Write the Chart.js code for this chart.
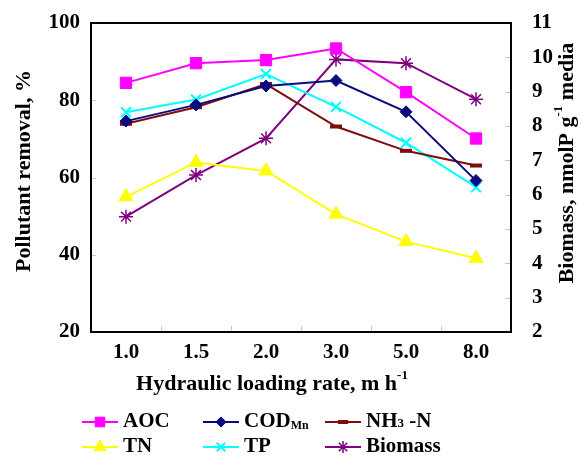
<!DOCTYPE html>
<html>
<head>
<meta charset="utf-8">
<script src="https://cdn.jsdelivr.net/npm/chart.js@4/dist/chart.umd.min.js"></script>
<style>
  html, body { margin: 0; padding: 0; background: #fff; }
  #wrap { width: 581px; height: 461px; }
</style>
</head>
<body>
<div id="wrap"><canvas id="myChart" width="581" height="461"></canvas></div>
<script>
// chart values
const categories = ['1.0', '1.5', '2.0', '3.0', '5.0', '8.0'];
const aoc = [84.5, 89.6, 90.4, 93.4, 82.1, 70.1];
const codMn = [74.6, 78.8, 83.7, 85.1, 77.0, 59.2];
const nh3n = [73.9, 78.2, 84.2, 73.2, 66.9, 63.1];
const tn = [55.0, 63.9, 61.7, 50.5, 43.4, 39.1];
const tp = [76.9, 80.2, 86.8, 78.3, 69.0, 57.5];
const biomass = [5.36, 6.57, 7.64, 9.94, 9.83, 8.78];
const leftTicks = [20, 40, 60, 80, 100];
const rightTicks = [2, 3, 4, 5, 6, 7, 8, 9, 10, 11];

const FONT = "'Liberation Serif', 'Times New Roman', serif";

// draw a run of text pieces (for sub / superscripts)
function drawRuns(ctx, runs, x, y, align) {
  let total = 0;
  runs.forEach(r => {
    ctx.font = 'bold ' + r.size + 'px ' + FONT;
    r.w = ctx.measureText(r.t).width;
    total += r.w;
  });
  let cx = align === 'center' ? x - total / 2 : x;
  ctx.textAlign = 'left';
  ctx.textBaseline = 'middle';
  runs.forEach(r => {
    ctx.font = 'bold ' + r.size + 'px ' + FONT;
    ctx.fillText(r.t, cx, y + (r.dy || 0));
    cx += r.w;
  });
}

const extras = {
  id: 'extras',
  afterDraw(chart) {
    const ctx = chart.ctx;
    const a = chart.chartArea;
    const x = chart.scales.x, y = chart.scales.y, y1 = chart.scales.y1;
    ctx.save();
    // small inner tick marks
    ctx.strokeStyle = '#c8c8c8';
    ctx.lineWidth = 1;
    ctx.beginPath();
    [40, 60, 80].forEach(v => {
      const py = Math.round(y.getPixelForValue(v)) + 0.5;
      ctx.moveTo(a.left, py); ctx.lineTo(a.left + 5, py);
    });
    rightTicks.slice(1, -1).forEach(v => {
      const py = Math.round(y1.getPixelForValue(v)) + 0.5;
      ctx.moveTo(a.right - 6, py); ctx.lineTo(a.right, py);
    });
    for (let i = 0; i < categories.length - 1; i++) {
      const px = Math.round((x.getPixelForValue(i) + x.getPixelForValue(i + 1)) / 2) + 0.5;
      ctx.moveTo(px, a.bottom); ctx.lineTo(px, a.bottom - 6);
    }
    ctx.stroke();

    // frame
    ctx.strokeStyle = '#000';
    ctx.lineWidth = 2;
    ctx.strokeRect(a.left, a.top, a.right - a.left, a.bottom - a.top);

    ctx.fillStyle = '#000';
    // left title
    ctx.save();
    ctx.translate(24, 171);
    ctx.rotate(-Math.PI / 2);
    drawRuns(ctx, [{ t: 'Pollutant removal, %', size: 22 }], 0, 0, 'center');
    ctx.restore();
    // right title
    ctx.save();
    ctx.translate(567, 163);
    ctx.rotate(-Math.PI / 2);
    drawRuns(ctx, [
      { t: 'Biomass, nmolP g', size: 22 },
      { t: '-1', size: 13, dy: -8 },
      { t: ' media', size: 22 }
    ], 0, 0, 'center');
    ctx.restore();
    // x title
    drawRuns(ctx, [
      { t: 'Hydraulic loading rate, m h', size: 22 },
      { t: '-1', size: 13, dy: -8 }
    ], 272, 384, 'center');

    // legend
    const labels = [
      [{ t: 'AOC', size: 21 }],
      [{ t: 'COD', size: 21 }, { t: 'Mn', size: 12, dy: 4 }],
      [{ t: 'NH', size: 21 }, { t: '3', size: 13, dy: 2 }, { t: ' -N', size: 21 }],
      [{ t: 'TN', size: 21 }],
      [{ t: 'TP', size: 21 }],
      [{ t: 'Biomass', size: 21 }]
    ];
    const cols = [82, 203, 325];
    const rows = [422, 447];
    chart.data.datasets.forEach((ds, i) => {
      const lx = cols[i % 3], ly = rows[Math.floor(i / 3)];
      ctx.strokeStyle = ds.borderColor;
      ctx.fillStyle = ds.borderColor;
      ctx.lineWidth = 2;
      ctx.beginPath();
      ctx.moveTo(lx, ly); ctx.lineTo(lx + 36, ly);
      ctx.stroke();
      ctx.lineWidth = ds.pointBorderWidth;
      Chart.helpers.drawPoint(ctx, {
        pointStyle: ds.pointStyle,
        radius: ds.pointRadius * 0.85,
        borderWidth: ds.pointBorderWidth,
        rotation: 0
      }, lx + 18, ly);
      ctx.fillStyle = '#000';
      drawRuns(ctx, labels[i], lx + 41, ly, 'left');
    });
    ctx.restore();
  }
};

function series(label, data, color, style, radius, axis, bw) {
  return {
    label: label,
    data: data,
    yAxisID: axis,
    borderColor: color,
    backgroundColor: color,
    pointBackgroundColor: color,
    pointBorderColor: color,
    pointStyle: style,
    pointRadius: radius,
    pointBorderWidth: bw,
    borderWidth: 2,
    tension: 0
  };
}

const tickFont = { family: FONT, size: 21, weight: 'bold' };

// fixed sizes for the axis boxes so the plot area lands where the figure has it
function fixBox(size, horizontal) {
  return s => {
    if (horizontal) s.height = size; else s.width = size;
    s.paddingTop = 0; s.paddingBottom = 0;
    s.paddingLeft = 0; s.paddingRight = 0;
  };
}

const ctx = document.getElementById('myChart').getContext('2d');
const myChart = new Chart(ctx, {
  type: 'line',
  data: {
    labels: categories,
    datasets: [
      series('AOC', aoc, '#ff00ff', 'rect', 8, 'y', 1),
      series('CODMn', codMn, '#0a0a80', 'rectRot', 6, 'y', 1),
      series('NH3-N', nh3n, '#7f0d0d', 'line', 6, 'y', 4),
      series('TN', tn, '#ffff00', 'triangle', 8, 'y', 1),
      series('TP', tp, '#00ffff', 'crossRot', 7, 'y', 2),
      series('Biomass', biomass, '#800080', 'star', 7, 'y1', 1.5)
    ]
  },
  options: {
    responsive: false,
    animation: false,
    layout: { padding: { top: 23, left: 0, right: 0, bottom: 0 } },
    plugins: {
      legend: { display: false },
      tooltip: { enabled: false },
      title: { display: false }
    },
    scales: {
      x: {
        offset: true,
        grid: { display: false, drawTicks: false },
        border: { display: false },
        ticks: { color: '#000', padding: 8, font: tickFont },
        afterFit: fixBox(129, true)
      },
      y: {
        position: 'left',
        min: 20, max: 100,
        afterBuildTicks: s => { s.ticks = leftTicks.map(v => ({ value: v })); },
        grid: { display: false, drawTicks: false },
        border: { display: false },
        ticks: { color: '#000', padding: 11, font: tickFont },
        afterFit: fixBox(91, false)
      },
      y1: {
        position: 'right',
        min: 2, max: 11,
        afterBuildTicks: s => { s.ticks = rightTicks.map(v => ({ value: v })); },
        grid: { display: false, drawTicks: false },
        border: { display: false },
        ticks: { color: '#000', padding: 21, font: tickFont },
        afterFit: fixBox(70, false)
      }
    }
  },
  plugins: [extras]
});
</script>
</body>
</html>
